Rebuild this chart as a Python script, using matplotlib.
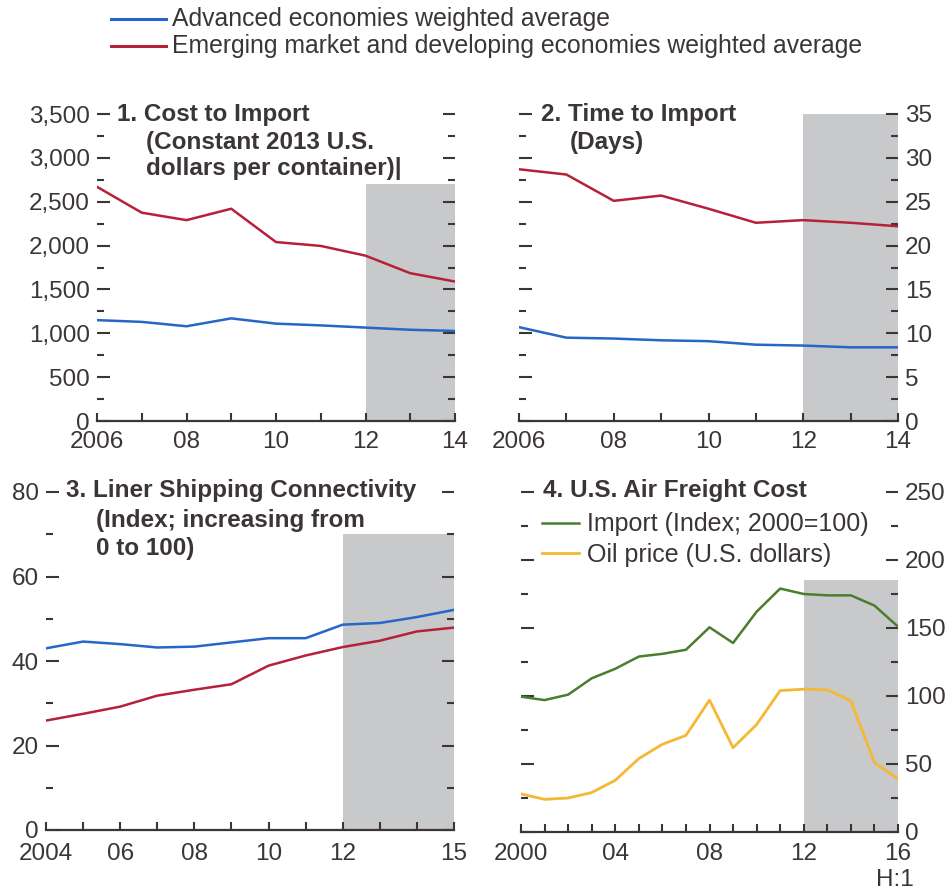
import matplotlib

matplotlib.use("Agg")
import matplotlib.pyplot as plt
from matplotlib.lines import Line2D
from matplotlib.ticker import MultipleLocator, FixedLocator, FuncFormatter

plt.rcParams["font.family"] = ["Liberation Sans", "DejaVu Sans"]

# --- data -------------------------------------------------------------------
years_a = list(range(2006, 2015))
cost_adv = [1150, 1130, 1080, 1170, 1110, 1090, 1065, 1040, 1027]
cost_emd = [2670, 2375, 2290, 2420, 2040, 1996, 1885, 1685, 1590]
time_adv = [10.7, 9.5, 9.4, 9.2, 9.1, 8.7, 8.6, 8.4, 8.4]
time_emd = [28.7, 28.1, 25.1, 25.7, 24.2, 22.6, 22.9, 22.6, 22.2]

years_c = list(range(2004, 2016))
lsci_adv = [43.0, 44.6, 44.0, 43.2, 43.4, 44.4, 45.4, 45.4, 48.6, 49.0, 50.4, 52.1]
lsci_emd = [25.9, 27.5, 29.2, 31.8, 33.2, 34.5, 38.9, 41.3, 43.3, 44.8, 47.0, 47.9]

years_d = list(range(2000, 2017))
air_import = [99.5, 97, 101, 113, 120, 129, 131, 134, 150.5, 139, 162, 179, 175, 174,
              174, 166.5, 151]
oil_price = [28, 24, 25, 29, 38, 54, 64.5, 71, 97, 62, 79, 104, 105, 104.5, 96.5, 51, 39]

BLUE = "#2566c8"
RED = "#b52139"
GREEN = "#4b7d2f"
YELLOW = "#f4b834"
SHADE = "#c8c9cb"
INK = "#3b3536"

W, H = 951, 892
TICK_FS = 17.5
TITLE_FS = 17.5
LEGEND_FS = 18

fig = plt.figure(figsize=(W / 100, H / 100), dpi=100)


def px(x, y):
    return x / W, 1 - y / H


def label(x, y, s, bold=True, size=TITLE_FS, **kw):
    fig.text(*px(x, y), s, fontsize=size, fontweight="bold" if bold else "normal",
             color=INK, va="center", **kw)


def style(ax, xlim, ylim, major, minor, xticks, xlabels, side="left", xpad=4):
    ax.set_xlim(*xlim)
    ax.set_ylim(*ylim)
    for s in ("top", "left", "right"):
        ax.spines[s].set_visible(False)
    ax.spines["bottom"].set_linewidth(1.6)
    ax.spines["bottom"].set_color(INK)
    ax.yaxis.set_major_locator(MultipleLocator(major))
    ax.yaxis.set_minor_locator(MultipleLocator(minor))
    ax.tick_params(axis="y", which="both", direction="in", left=True, right=True,
                   labelleft=(side == "left"), labelright=(side == "right"),
                   colors=INK, width=1.5, labelsize=TICK_FS, pad=5)
    ax.tick_params(axis="y", which="major", length=9)
    ax.tick_params(axis="y", which="minor", length=5)
    ax.xaxis.set_major_locator(FixedLocator(xticks))
    ax.xaxis.set_minor_locator(MultipleLocator(1))
    ax.set_xticklabels(xlabels)
    ax.tick_params(axis="x", which="both", direction="in", length=6, width=1.5,
                   colors=INK, labelsize=TICK_FS, pad=xpad)
    ax.yaxis.set_major_formatter(FuncFormatter(lambda v, p: f"{v:,.0f}"))


def add_axes(left, top, right, bottom):
    l, t = px(left, top)
    r, b = px(right, bottom)
    return fig.add_axes([l, b, r - l, t - b])


# Panel 1: cost to import
ax1 = add_axes(97, 114, 455, 421)
ax1.fill_between([2012, 2014], 0, 2700, color=SHADE, lw=0)
ax1.plot(years_a, cost_adv, color=BLUE, lw=1.8)
ax1.plot(years_a, cost_emd, color=RED, lw=1.8)
style(ax1, (2006, 2014), (0, 3500), 500, 250, [2006, 2008, 2010, 2012, 2014],
      ["2006", "08", "10", "12", "14"], xpad=7)
label(117, 114, "1. Cost to Import")
label(146, 142, "(Constant 2013 U.S.")
label(146, 168, "dollars per container)|")

# Panel 2: time to import
ax2 = add_axes(519, 114, 898, 421)
ax2.fill_between([2012, 2014], 0, 35, color=SHADE, lw=0)
ax2.plot(years_a, time_adv, color=BLUE, lw=1.8)
ax2.plot(years_a, time_emd, color=RED, lw=1.8)
style(ax2, (2006, 2014), (0, 35), 5, 2.5, [2006, 2008, 2010, 2012, 2014],
      ["2006", "08", "10", "12", "14"], side="right", xpad=7)
label(541, 114, "2. Time to Import")
label(570, 142, "(Days)")

# Panel 3: liner shipping connectivity
ax3 = add_axes(46, 492, 454, 830)
ax3.fill_between([2012, 2015], 0, 70, color=SHADE, lw=0)
ax3.plot(years_c, lsci_adv, color=BLUE, lw=1.8)
ax3.plot(years_c, lsci_emd, color=RED, lw=1.8)
style(ax3, (2004, 2015), (0, 80), 20, 10, [2004, 2006, 2008, 2010, 2012, 2015],
      ["2004", "06", "08", "10", "12", "15"], xpad=9)
label(66, 491, "3. Liner Shipping Connectivity")
label(96, 521, "(Index; increasing from")
label(96, 548, "0 to 100)")

# Panel 4: US air freight cost
ax4 = add_axes(521, 492, 898, 832)
ax4.fill_between([2012, 2016], 0, 185, color=SHADE, lw=0)
ax4.plot(years_d, air_import, color=GREEN, lw=1.8, label="Import (Index; 2000=100)")
ax4.plot(years_d, oil_price, color=YELLOW, lw=2.0, label="Oil price (U.S. dollars)")
style(ax4, (2000, 2016), (0, 250), 50, 25, [2000, 2004, 2008, 2012, 2016],
      ["2000", "04", "08", "12", "16"], side="right", xpad=8)
label(543, 491, "4. U.S. Air Freight Cost")
ax4.legend(loc="upper left", bbox_to_anchor=(0.055, 0.94), frameon=False,
           fontsize=LEGEND_FS, handlelength=1.5, handletextpad=0.3, labelspacing=0.25,
           borderaxespad=0, borderpad=0, labelcolor=INK)
label(895, 880, "H:1", bold=False, ha="center")

# Shared legend at the top
for y, c, lab in [(19, BLUE, "Advanced economies weighted average"),
                  (46, RED, "Emerging market and developing economies weighted average")]:
    (x0, yy), (x1, _) = px(111, y), px(166, y)
    fig.add_artist(Line2D([x0, x1], [yy, yy], color=c, lw=2.2))
    label(172, y, lab, bold=False, size=17.8)

fig.savefig("out.png", dpi=100)
